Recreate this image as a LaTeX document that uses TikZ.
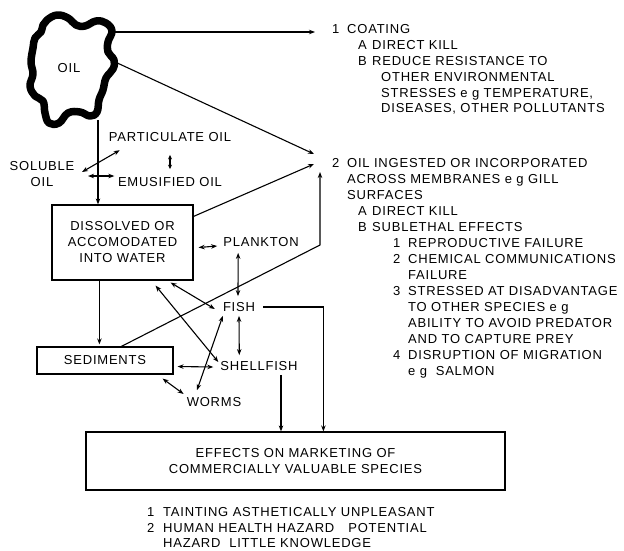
\documentclass[tikz,border=0pt]{standalone}
\usepackage{fontspec}
\setmainfont{Liberation Sans}[LetterSpace=6]
\usetikzlibrary{arrows.meta,calc}
\begin{document}
\begin{tikzpicture}[x=1pt,y=-1pt,
  font=\fontsize{13pt}{16pt}\selectfont,
  lbl/.style={inner sep=0pt, text height=9.4pt, text depth=0pt},
  ln/.style={anchor=base west, inner sep=0pt},
  conn/.style={line width=1.1pt, -{Stealth[length=6pt,width=4.5pt]}},
  both/.style={line width=1.1pt, {Stealth[length=6pt,width=4.5pt]}-{Stealth[length=6pt,width=4.5pt]}},
  smallboth/.style={line width=1.1pt, {Stealth[length=4.5pt,width=4pt]}-{Stealth[length=4.5pt,width=4pt]}},
  framebox/.style={draw, line width=1.2pt, inner sep=0pt, align=center}]
\useasboundingbox (0,0) rectangle (624,550);

% oil blob
\draw[line width=7.5pt, line join=round] plot[smooth cycle, tension=0.7] coordinates {
 (47,20) (57,15) (68,18) (76,25) (85,26) (96,21) (106,23) (112,31) (108,42) (108,52)
 (114,60) (113,69) (106,78) (103,90) (99,100) (97,112) (90,116) (80,112) (68,113)
 (59,123) (49,123) (45,113) (43,101) (35,96) (30,86) (33,74) (31,62) (33,48) (35,38)
 (41,32) (43,25)};
\node[lbl] (oil) at (69,68) {OIL};
\coordinate (bA) at (115,32);
\coordinate (bB) at (113,61);
\coordinate (bC) at (98,120);

% left diagram nodes
\node[lbl] (part) at (170,137) {PARTICULATE OIL};
\node[inner sep=0pt, align=center] (sol) at (42,174) {SOLUBLE\\OIL};
\node[lbl] (emu) at (170,182) {EMUSIFIED OIL};
\node[framebox, minimum width=141pt, minimum height=75pt] (box) at (122.5,242.5)
  {DISSOLVED OR\\ACCOMODATED\\INTO WATER};
\node[lbl] (plank) at (261,242) {PLANKTON};
\node[lbl] (fish) at (239,307) {FISH};
\node[lbl] (shell) at (259,366) {SHELLFISH};
\node[lbl] (worms) at (214,402) {WORMS};
\node[framebox, minimum width=136pt, minimum height=27pt] (sed) at (105,360.5) {SEDIMENTS};
\node[framebox, minimum width=419pt, minimum height=58pt] (bot) at (295.5,461)
  {EFFECTS ON MARKETING OF\\COMMERCIALLY VALUABLE SPECIES};

% arrow tips on the right column
\coordinate (t1) at (315,32);
\coordinate (t2a) at (314,154);
\coordinate (t2b) at (314,164);
\coordinate (t2c) at (320,172);
\coordinate (bend) at (320,245);

% connectors
\draw[conn] (bA) -- (t1);
\draw[conn] (bB) -- (t2a);
\draw[conn] ($(box.north east)+(0,12)$) -- (t2b);
\draw[conn] ($(sed.north west)+(85,0)$) -- (bend) -- (t2c);
\draw[conn] (bC) -- (bC |- box.north);
\draw[both] ($(sol.east)+(7.5,-2)$) -- ($(part.south west)+(11,8.3)$);
\draw[both] ($(sol.east)+(13.5,2)$) -- ($(emu.west)+(-3.5,-6)$);
\draw[smallboth] ($(part.south)+(0,13)$) -- ($(emu.north)+(0,-8)$);
\draw[conn] ($(box.south west)+(48,0)$) -- ($(sed.north west)+(63,-2)$);
\draw[both] ($(box.east)+(5,5)$) -- ($(plank.west)+(-6,4)$);
\draw[both] ($(plank.south west)+(15,6)$) -- ($(fish.north)+(-1,-6)$);
\draw[both] ($(fish.south)+(0,4)$) -- ($(shell.north west)+(19,-6)$);
\draw[both] ($(box.south east)+(-23,2)$) -- ($(fish.west)+(-8,2)$);
\draw[both] ($(box.south east)+(-38,5)$) -- ($(shell.west)+(-2,-4)$);
\draw[both] ($(worms.north)+(-17,-7)$) -- ($(fish.south west)+(0,4)$);
\draw[both] ($(sed.east)+(4,6)$) -- ($(shell.west)+(-7,1)$);
\draw[both] ($(sed.south east)+(-11,4)$) -- ($(worms.west)+(-3,-8)$);
\draw[conn] ($(fish.east)+(8,0)$) -| ($(bot.north west)+(238,0)$);
\coordinate (s0) at ($(shell.south)+(22,4)$);
\draw[conn] (s0) -- (s0 |- bot.north);

% right column, section 1
\node[ln] (a1) at (332,33.7) {1};
\node[ln] (a2) at (347,33.7) {COATING};
\node[ln] (a3) at (358,49.7) {A};
\node[ln] (a4) at (372,49.7) {DIRECT KILL};
\node[ln] (a5) at (358,65.7) {B};
\node[ln] (a6) at (372,65.7) {REDUCE RESISTANCE TO};
\node[ln] (a7) at (381,81.7) {OTHER ENVIRONMENTAL};
\node[ln] (a8) at (381,97.2) {STRESSES e g TEMPERATURE,};
\node[ln] (a9) at (381,112.7) {DISEASES, OTHER POLLUTANTS};

% right column, section 2
\node[ln] (b1) at (332,167.7) {2};
\node[ln] (b2) at (347,167.7) {OIL INGESTED OR INCORPORATED};
\node[ln] (b3) at (347,183.7) {ACROSS MEMBRANES e g GILL};
\node[ln] (b4) at (347,199.7) {SURFACES};
\node[ln] (b5) at (358,215.7) {A};
\node[ln] (b6) at (372,215.7) {DIRECT KILL};
\node[ln] (b7) at (358,231.7) {B};
\node[ln] (b8) at (372,231.7) {SUBLETHAL EFFECTS};
\node[ln] (b9) at (393,247.7) {1};
\node[ln] (b10) at (408,247.7) {REPRODUCTIVE FAILURE};
\node[ln] (b11) at (393,263.7) {2};
\node[ln] (b12) at (408,263.7) {CHEMICAL COMMUNICATIONS};
\node[ln] (b13) at (408,279.7) {FAILURE};
\node[ln] (b14) at (393,295.7) {3};
\node[ln] (b15) at (408,295.7) {STRESSED AT DISADVANTAGE};
\node[ln] (b16) at (408,311.7) {TO OTHER SPECIES e g};
\node[ln] (b17) at (408,327.7) {ABILITY TO AVOID PREDATOR};
\node[ln] (b18) at (408,343.7) {AND TO CAPTURE PREY};
\node[ln] (b19) at (393,359.7) {4};
\node[ln] (b20) at (408,359.7) {DISRUPTION OF MIGRATION};
\node[ln] (b21) at (408,375.7) {e g\ \ SALMON};

% bottom list
\node[ln] (c1) at (147,516.7) {1};
\node[ln] (c2) at (163,516.7) {TAINTING ASTHETICALLY UNPLEASANT};
\node[ln] (c3) at (147,532.2) {2};
\node[ln] (c4) at (163,532.2) {HUMAN HEALTH HAZARD\hspace{14pt}POTENTIAL};
\node[ln] (c5) at (163,547.7) {HAZARD\ \ LITTLE KNOWLEDGE};
\end{tikzpicture}
\end{document}
